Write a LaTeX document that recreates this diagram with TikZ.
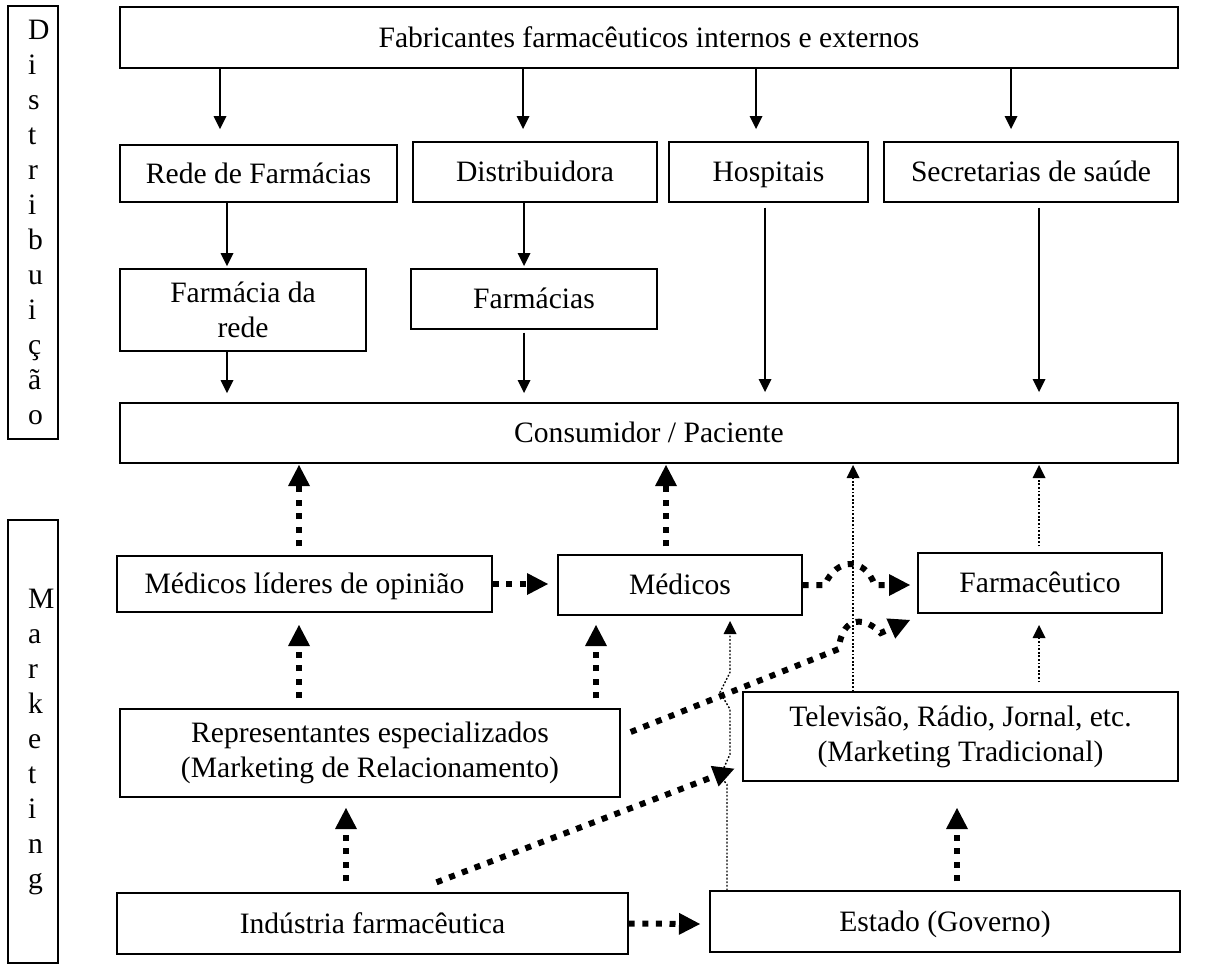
\documentclass[tikz,border=0pt]{standalone}
\usepackage{fontspec}
\setmainfont{Liberation Serif}
\usetikzlibrary{arrows.meta}

\begin{document}
\begin{tikzpicture}[x=0.5pt, y=-0.5pt,
  box/.style={rectangle, draw, line width=0.7pt, inner sep=2pt, align=center,
    font=\fontsize{14.8}{17.5}\selectfont},
  line/.style={box, text height=13pt, text depth=3.2pt},
  lbl/.style={box, minimum width=25pt, text width=5pt, align=left},
  flow/.style={line width=0.8pt, -{Triangle[length=6.5pt,width=6.5pt,line width=0pt]}},
  push/.style={line width=3pt, dash pattern=on 3pt off 3.8pt,
    -{Triangle[length=10.5pt,width=11pt,line width=0pt]}},
  hint/.style={line width=0.7pt, dash pattern=on 0.9pt off 0.9pt,
    -{Triangle[length=6.5pt,width=6.5pt,line width=0pt]}}]
  \useasboundingbox (0,0) rectangle (1205,976);

  % Nodes
  \draw (33,222.5) node(distlbl) [lbl, minimum height=216.5pt] {D\\i\\s\\t\\r\\i\\b\\u\\i\\ç\\ã\\o};
  \draw (33,741.5) node(mktlbl) [lbl, minimum height=221.5pt] {M\\a\\r\\k\\e\\t\\i\\n\\g};

  \draw (649,37.5)   node(fab)      [line, minimum width=529pt, minimum height=30.5pt] {Fabricantes farmacêuticos internos e externos};
  \draw (258.5,173.5) node(rede)    [line, minimum width=138.5pt, minimum height=28.5pt] {Rede de Farmácias};
  \draw (535,172)    node(dist)     [line, minimum width=122pt, minimum height=30pt] {Distribuidora};
  \draw (768.5,172)  node(hosp)     [line, minimum width=99.5pt, minimum height=30pt] {Hospitais};
  \draw (1031,172)   node(secr)     [line, minimum width=147pt, minimum height=30pt] {Secretarias de saúde};
  \draw (243,310)    node(farmrede) [box, minimum width=123pt, minimum height=41pt] {Farmácia da\\rede};
  \draw (534,299)    node(farm)     [line, minimum width=123pt, minimum height=30pt] {Farmácias};
  \draw (649,433)    node(cons)     [line, minimum width=529pt, minimum height=30pt] {Consumidor / Paciente};

  \draw (304.5,584)  node(medlid)   [line, minimum width=187.5pt, minimum height=28pt] {Médicos líderes de opinião};
  \draw (680,585)    node(med)      [line, minimum width=122pt, minimum height=30pt] {Médicos};
  \draw (1040,583)   node(farmac)   [line, minimum width=122pt, minimum height=30pt] {Farmacêutico};
  \draw (370,753)    node(repr)     [box, minimum width=250pt, minimum height=44pt] {Representantes especializados\\(Marketing de Relacionamento)};
  \draw (960.5,736.5) node(tv)      [box, minimum width=217.5pt, minimum height=44.5pt] {Televisão, Rádio, Jornal, etc.\\(Marketing Tradicional)};
  \draw (372.5,923.5) node(ind)     [line, minimum width=255.5pt, minimum height=30.5pt] {Indústria farmacêutica};
  \draw (945,921.5)  node(est)      [line, minimum width=235pt, minimum height=30.5pt] {Estado (Governo)};

  % Arrow tips
  \coordinate (t1) at (220,129);  \coordinate (t2) at (523,129);
  \coordinate (t3) at (756,129);  \coordinate (t4) at (1011,129);
  \coordinate (t5) at (227,266);  \coordinate (t6) at (524,266);
  \coordinate (t7) at (227,393);  \coordinate (t8) at (524,393);
  \coordinate (t9) at (765,392);  \coordinate (t10) at (1039,392);

  \coordinate (p1) at (299,465);  \coordinate (p2) at (666,465);
  \coordinate (p3) at (299,625);  \coordinate (p4) at (596,625);
  \coordinate (p5) at (346,808);  \coordinate (p6) at (957,808);
  \coordinate (p7) at (548,584);  \coordinate (p8) at (700,924);
  \coordinate (p9) at (910,585);  \coordinate (p10) at (910,620);

  \coordinate (h1) at (853,465);  \coordinate (h2) at (1039,465);
  \coordinate (h3) at (1039,625); \coordinate (h4) at (730,621);

  % Distribution (solid)
  \draw[flow] (fab.south -| t1) -- (t1);
  \draw[flow] (fab.south -| t2) -- (t2);
  \draw[flow] (fab.south -| t3) -- (t3);
  \draw[flow] (fab.south -| t4) -- (t4);
  \draw[flow] (rede.south -| t5) -- (t5);
  \draw[flow] (dist.south -| t6) -- (t6);
  \draw[flow] (farmrede.south -| t7) -- (t7);
  \draw[flow, shorten <=1.5pt] (farm.south -| t8) -- (t8);
  \draw[flow, shorten <=2.5pt] (hosp.south -| t9) -- (t9);
  \draw[flow, shorten <=2.5pt] (secr.south -| t10) -- (t10);

  % Marketing (thin dotted)
  \draw[hint] (tv.north -| h1) -- (h1);
  \draw[hint, shorten <=3pt] (farmac.north -| h2) -- (h2);
  \draw[hint, shorten <=4.5pt] (tv.north -| h3) -- (h3);
  \draw[hint] ([xshift=-109pt]est.north) -- ++(0,-106) -- ++(-7,-8) -- ++(10,-22)
    -- ++(0,-45) -- ++(-10,-17) -- ++(10,-20) -- (h4);

  % Marketing (thick dotted)
  \draw[push, shorten <=4.5pt] (medlid.north -| p1) -- (p1);
  \draw[push, shorten <=4pt] (med.north -| p2) -- (p2);
  \draw[push, shorten <=5pt] (repr.north -| p3) -- (p3);
  \draw[push, shorten <=5pt] (repr.north -| p4) -- (p4);
  \draw[push, shorten <=5.5pt] (ind.north -| p5) -- (p5);
  \draw[push, shorten <=4.5pt] (est.north -| p6) -- (p6);
  \draw[push] (medlid.east) -- (p7);
  \draw[push] (ind.east) -- (p8);
  \draw[push] (med.east) -- ++(22,0) .. controls +(12,-28) and +(-10,-28) .. ++(50,0) -- (p9);
  \draw[push] ([xshift=5pt,yshift=10.5pt]repr.east) -- ++(208,-83)
    .. controls +(4,-36) and +(-14,-15) .. ++(42,-16) -- (p10);
  \draw[push] ([xshift=32pt,yshift=5pt]ind.north) -- ([xshift=-4pt,yshift=6.5pt]tv.south west);

\end{tikzpicture}
\end{document}
